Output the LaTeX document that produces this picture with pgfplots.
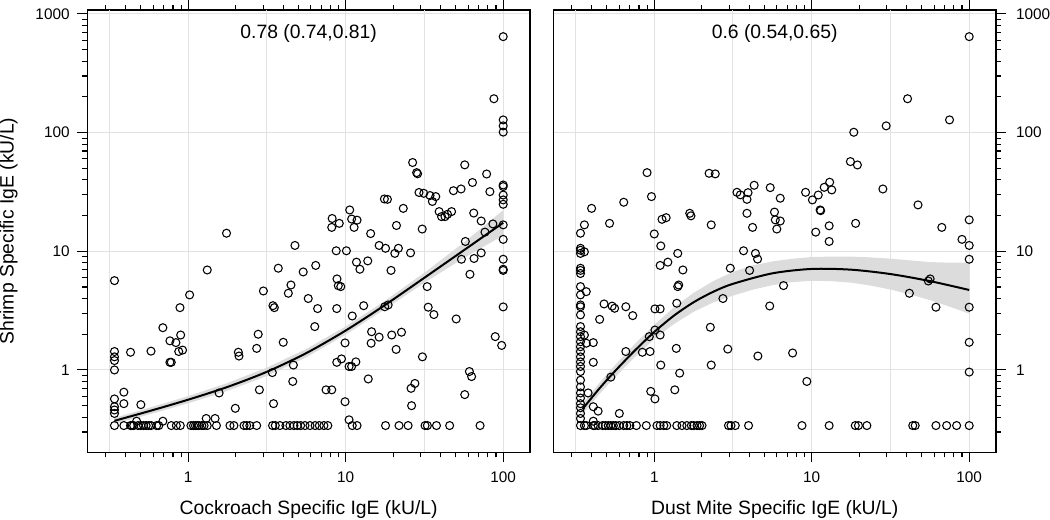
\documentclass[border=0pt]{standalone}
\usepackage{fontspec}
\setmainfont{Liberation Sans}
\usepackage{pgfplots}
\pgfplotsset{compat=1.18}
\definecolor{bandgray}{RGB}{220,220,220}
\definecolor{gridgray}{RGB}{226,226,226}
\begin{document}
\begin{tikzpicture}
\path[use as bounding box] (0,0) rectangle (787.5pt,390pt);
% ---------------- left panel ----------------
\begin{axis}[at={(65.5pt,50.8pt)}, anchor=south west,
  xmode=log, ymode=log,
  scale only axis, width=332pt, height=331.7pt,
  xmin=0.2286, xmax=148, ymin=0.2025, ymax=1080,
  axis line style={line width=0.9pt},
  tick style={line width=0.8pt, black},
  tick align=outside,
  major tick length=7.5pt, minor tick length=3.9pt,
  xtick={1,10,100}, xticklabels={1,10,100},
  ytick={1,10,100,1000}, yticklabels={1,10,100,1000},
  minor xtick={0.3,0.4,0.5,0.6,0.7,0.8,0.9,2,3,4,5,6,7,8,9,20,30,40,50,60,70,80,90},
  minor ytick={0.3,0.4,0.5,0.6,0.7,0.8,0.9,2,3,4,5,6,7,8,9,20,30,40,50,60,70,80,90,200,300,400,500,600,700,800,900},
  xtick pos=both, xticklabel pos=lower,
  ytick pos=left,
  xmajorgrids, ymajorgrids,
  major grid style={line width=0.75pt, gridgray},
  tick label style={font=\fontsize{11.5}{13}\selectfont},
  xticklabel style={yshift=-4pt},
  yticklabel style={xshift=-2.3pt},
  label style={font=\fontsize{14.5}{17}\selectfont},
  xlabel={Cockroach Specific IgE (kU/L)},
  ylabel={Shrimp Specific IgE (kU/L)},
  xlabel style={at={(axis description cs:0.5,-0.13)}, anchor=center},
  ylabel style={at={(axis description cs:-0.178,0.5)}, anchor=center},
]
\draw[gridgray, line width=0.75pt] (axis cs:0.31623,0.2025) -- (axis cs:0.31623,1080);
\draw[gridgray, line width=0.75pt] (axis cs:3.1623,0.2025) -- (axis cs:3.1623,1080);
\draw[gridgray, line width=0.75pt] (axis cs:31.623,0.2025) -- (axis cs:31.623,1080);
\addplot[fill=bandgray, draw=none] coordinates {
(0.34,0.395) (0.562,0.479) (1,0.602) (1.778,0.777) (3.162,1.047) (5.623,1.504) (10,2.33) (17.78,3.83) (31.62,6.60) (56.23,11.85) (100,22.2)
(100,13.6) (56.23,8.78) (31.62,5.44) (17.78,3.26) (10,1.984) (5.623,1.281) (3.162,0.891) (1.778,0.667) (1,0.524) (0.562,0.421) (0.34,0.352)
};
\addplot[no marks, smooth, line width=1.5pt, black] coordinates {
(0.34,0.373) (0.562,0.449) (1,0.562) (1.778,0.720) (3.162,0.966) (5.623,1.388) (10,2.15) (17.78,3.53) (31.62,5.99) (56.23,10.2) (100,17.4)
};
\addplot[only marks, mark=o, mark size=3pt, mark options={line width=0.8pt, black}] coordinates {
(0.34,5.66)(0.34,1.43)(0.34,1.29)(0.34,1.20)(0.34,1.0)(0.34,0.57)(0.34,0.49)(0.34,0.46)(0.34,0.43)
(0.39,0.65)(0.39,0.52)(0.43,1.41)(0.50,0.51)(0.58,1.44)(0.69,2.27)(0.765,1.76)(0.835,1.70)(0.895,1.97)(0.765,1.16)(0.78,1.16)(0.886,3.35)(0.87,1.43)(0.92,1.47)(1.02,4.29)(1.32,6.96)(1.75,14.2)(1.57,0.64)(1.99,0.475)(2.08,1.41)(2.10,1.31)(2.72,1.52)(2.78,2.0)(2.83,0.68)(3.0,4.63)(3.42,0.95)(3.48,0.52)(3.45,3.48)(3.52,3.35)(4.01,1.71)(3.73,7.2)(4.49,5.2)(4.32,4.43)(4.65,1.10)(4.61,0.80)(4.76,11.2)(5.37,6.7)
(6.45,7.6)(5.78,4.0)(6.63,3.29)(6.36,2.32)(7.5,0.68)(8.15,0.68)(8.2,18.9)(8.15,15.9)(9.1,17.2)(8.7,10.1)(8.8,5.85)(8.97,5.13)(9.3,5.04)(8.77,3.29)(8.77,1.16)(9.4,1.24)(9.9,1.69)(9.9,0.54)(10.1,10.1)(10.5,1.07)(10.9,1.07)(11.6,1.17)(10.6,22.3)(10.9,18.7)(11.8,18.3)(11.3,15.9)(11.0,2.85)(11.7,8.1)(12.3,7.06)(13.8,8.3)(13.0,3.48)(13.9,0.84)(14.4,14.1)(14.5,1.68)(14.6,2.1)(16.3,1.89)(16.3,11.2)(17.9,10.6)(17.6,27.6)(18.4,27.4)(17.7,3.41)(18.6,3.53)(19.4,6.9)(19.6,1.97)(22.6,2.08)(20.9,1.49)(20.5,9.6)(21.6,10.6)(21,16.5)(23.2,23.0)(25.8,9.7)(26.0,0.70)(27.5,0.77)(26.2,0.50)(26.6,56)(28.2,46)(28.6,45)(29.2,31.3)(31.3,30.8)(34.3,29.5)(35.5,26.3)(37.3,28.9)(30.6,15.4)(30.7,1.29)(32.9,5.04)(33.4,3.38)(36.3,2.93)(39.2,21.6)(40.6,19.6)(42.7,19.6)(44.3,20.5)(47,21.6)(65,21.0)(48.3,32.4)(54,33.5)(57,53.5)(63.8,38)(78.5,44.8)(82.3,31.8)(72.5,18.0)(76.6,14.5)(86,17.0)(50.3,2.69)(54.3,8.57)(57.5,12.1)(57,0.62)(61,0.97)(63,0.88)(61.5,6.4)(65.3,8.7)(72.5,9.7)(87.3,193)(89,1.91)(97.8,1.61)
(100,644)(100,128)(100,114)(100,101)(100,36.2)(100,35.1)(100,29.8)(100,27.1)(100,24.9)(100,16.7)(100,12.6)(100,8.57)(100,7.06)(100,6.9)(100,3.4)
(0.47,0.37)(0.69,0.37)(1.3,0.39)(1.48,0.39)(10.5,0.38)
(0.34,0.34)(0.39,0.34)(0.43,0.34)(0.44,0.34)(0.45,0.34)(0.48,0.34)(0.50,0.34)(0.52,0.34)(0.54,0.34)(0.56,0.34)(0.58,0.34)(0.63,0.34)(0.65,0.34)(0.78,0.34)(0.84,0.34)(0.89,0.34)(1.04,0.34)(1.08,0.34)(1.11,0.34)(1.14,0.34)(1.17,0.34)(1.22,0.34)(1.26,0.34)(1.32,0.34)(1.51,0.34)(1.84,0.34)(1.95,0.34)(2.26,0.34)(2.35,0.34)(2.46,0.34)(2.72,0.34)(3.43,0.34)(3.57,0.34)(3.82,0.34)(4.17,0.34)(4.42,0.34)(4.69,0.34)(4.92,0.34)(5.17,0.34)(5.51,0.34)(5.93,0.34)(6.39,0.34)(6.8,0.34)(7.27,0.34)(7.7,0.34)(11.0,0.34)(11.8,0.34)(17.9,0.34)(21.8,0.34)(24.9,0.34)(31.9,0.34)(33.0,0.34)(37.7,0.34)(45.7,0.34)(71.3,0.34)
};
\node[font=\fontsize{14.5}{17}\selectfont] at (axis description cs:0.5,0.947) {0.78 (0.74,0.81)};
\end{axis}
% ---------------- right panel ----------------
\begin{axis}[at={(415pt,50.8pt)}, anchor=south west,
  xmode=log, ymode=log,
  scale only axis, width=332pt, height=331.7pt,
  xmin=0.2286, xmax=148, ymin=0.2025, ymax=1080,
  axis line style={line width=0.9pt},
  tick style={line width=0.8pt, black},
  tick align=outside,
  major tick length=7.5pt, minor tick length=3.9pt,
  xtick={1,10,100}, xticklabels={1,10,100},
  ytick={1,10,100,1000}, yticklabels={1,10,100,1000},
  minor xtick={0.3,0.4,0.5,0.6,0.7,0.8,0.9,2,3,4,5,6,7,8,9,20,30,40,50,60,70,80,90},
  minor ytick={0.3,0.4,0.5,0.6,0.7,0.8,0.9,2,3,4,5,6,7,8,9,20,30,40,50,60,70,80,90,200,300,400,500,600,700,800,900},
  xtick pos=both, xticklabel pos=lower,
  ytick pos=right, yticklabel pos=right,
  xmajorgrids, ymajorgrids,
  major grid style={line width=0.75pt, gridgray},
  tick label style={font=\fontsize{11.5}{13}\selectfont},
  xticklabel style={yshift=-4pt},
  yticklabel style={xshift=4pt},
  label style={font=\fontsize{14.5}{17}\selectfont},
  xlabel={Dust Mite Specific IgE (kU/L)},
  xlabel style={at={(axis description cs:0.5,-0.13)}, anchor=center},
]
\draw[gridgray, line width=0.75pt] (axis cs:0.31623,0.2025) -- (axis cs:0.31623,1080);
\draw[gridgray, line width=0.75pt] (axis cs:3.1623,0.2025) -- (axis cs:3.1623,1080);
\draw[gridgray, line width=0.75pt] (axis cs:31.623,0.2025) -- (axis cs:31.623,1080);
\addplot[fill=bandgray, draw=none] coordinates {
(0.35,0.519) (0.447,0.774) (0.562,1.094) (0.75,1.645) (1,2.40) (1.334,3.37) (1.778,4.47) (2.371,5.61) (3.162,6.70) (4.217,7.60) (5.623,8.21) (7.5,8.65) (10,8.94) (13.34,9.03) (17.78,9.02) (23.7,8.88) (31.62,8.67) (42.2,8.38) (56.23,8.11) (75,8.02) (100,8.03)
(100,2.98) (75,3.42) (56.23,3.88) (42.2,4.33) (31.62,4.76) (23.7,5.14) (17.78,5.44) (13.34,5.60) (10,5.64) (7.5,5.50) (5.623,5.18) (4.217,4.75) (3.162,4.23) (2.371,3.71) (1.778,3.09) (1.334,2.44) (1,1.82) (0.75,1.278) (0.562,0.869) (0.447,0.624) (0.35,0.422)
};
\addplot[no marks, smooth, line width=1.5pt, black] coordinates {
(0.35,0.468) (0.447,0.695) (0.562,0.975) (0.75,1.45) (1,2.09) (1.334,2.87) (1.778,3.72) (2.371,4.56) (3.162,5.32) (5.623,6.52) (10,7.10) (17.78,7.00) (31.62,6.43) (56.23,5.61) (100,4.72)
};
\addplot[only marks, mark=o, mark size=3pt, mark options={line width=0.8pt, black}] coordinates {
(0.34,14.2)(0.34,10.6)(0.34,10.2)(0.34,9.6)(0.34,7.2)(0.34,6.9)(0.34,6.5)(0.34,5.04)(0.34,4.29)(0.34,3.53)(0.34,3.41)(0.34,2.91)(0.34,2.32)(0.34,2.1)(0.34,1.91)(0.34,1.73)(0.34,1.57)(0.34,1.43)(0.34,1.29)(0.34,1.17)(0.34,1.07)(0.34,0.97)(0.34,0.82)(0.34,0.72)(0.34,0.64)(0.34,0.58)(0.34,0.52)(0.34,0.48)(0.34,0.43)(0.34,0.39)
(0.36,16.7)(0.36,9.9)(0.37,4.57)(0.40,23)(0.64,25.9)(0.52,17.2)(0.48,3.6)(0.54,3.45)(0.56,3.31)(0.66,3.41)(0.45,2.67)(0.73,2.87)(0.36,1.97)(0.37,1.68)(0.41,1.70)(0.41,1.16)(0.38,0.64)(0.41,0.49)(0.44,0.45)(0.60,0.43)(0.41,0.37)(0.53,0.87)(0.66,1.43)(0.84,1.41)(0.94,1.43)(0.93,1.91)(1.01,2.17)(1.09,1.97)(1.01,3.27)(1.09,3.27)(0.90,46)(0.96,28.9)(1.0,14.0)(1.10,11.1)(1.09,7.6)(1.12,18.6)(1.19,19.2)(1.22,8.1)(0.95,0.66)(1.01,0.57)(1.10,1.10)(1.35,0.68)(1.45,0.94)(1.38,1.52)(1.39,3.65)(1.41,5.04)(1.43,5.2)(1.41,9.6)(1.52,6.96)(1.68,20.9)(1.71,19.9)(2.23,45.4)(2.44,44.9)(2.30,16.7)(2.27,2.29)(2.30,1.10)(2.73,4.0)(2.93,1.50)(3.04,7.2)(3.35,31.4)(3.52,29.9)(3.88,27.4)(3.94,31.2)(4.31,36)(3.88,20.9)(4.21,15.9)(3.69,10.1)(4.39,9.6)(4.53,8.6)(4.03,6.9)(4.55,1.31)(5.45,34.4)(5.8,21.4)(5.87,18.4)(6.31,18.0)(6.0,15.4)(6.31,28)(6.62,5.14)(5.41,3.46)(7.56,1.39)(9.31,0.80)(9.14,31.4)(10.1,27.1)(11.0,29.8)(12.0,34.6)(13.0,38.2)(13.4,32.9)(11.3,22.3)(11.4,22.0)(10.6,14.5)(12.9,16.4)(12.9,12.1)(17.6,57)(18.5,100.7)(19.5,53.4)(19.0,17.2)(28.3,33.5)(29.7,114)(40.6,193)(47.3,24.6)(41.7,4.43)(55,5.62)(56.5,5.85)(61.5,3.38)(67,15.9)(75,128)(90,12.6)(100,644)(100,18.4)(100,11.2)(100,8.57)(100,3.38)(100,1.71)(100,0.96)
(0.34,0.34)(0.36,0.34)(0.37,0.34)(0.41,0.34)(0.42,0.34)(0.44,0.34)(0.47,0.34)(0.49,0.34)(0.51,0.34)(0.53,0.34)(0.55,0.34)(0.57,0.34)(0.60,0.34)(0.64,0.34)(0.67,0.34)(0.70,0.34)(0.77,0.34)(0.89,0.34)(1.04,0.34)(1.09,0.34)(1.15,0.34)(1.20,0.34)(1.39,0.34)(1.50,0.34)(1.61,0.34)(1.72,0.34)(1.78,0.34)(1.87,0.34)(1.94,0.34)(2.01,0.34)(2.96,0.34)(3.07,0.34)(3.27,0.34)(3.97,0.34)(8.67,0.34)(12.9,0.34)(18.9,0.34)(19.8,0.34)(22.4,0.34)(43.8,0.34)(45.4,0.34)(61.5,0.34)(71.9,0.34)(83.2,0.34)(100,0.34)
};
\node[font=\fontsize{14.5}{17}\selectfont] at (axis description cs:0.5,0.947) {0.6 (0.54,0.65)};
\end{axis}
\end{tikzpicture}
\end{document}
